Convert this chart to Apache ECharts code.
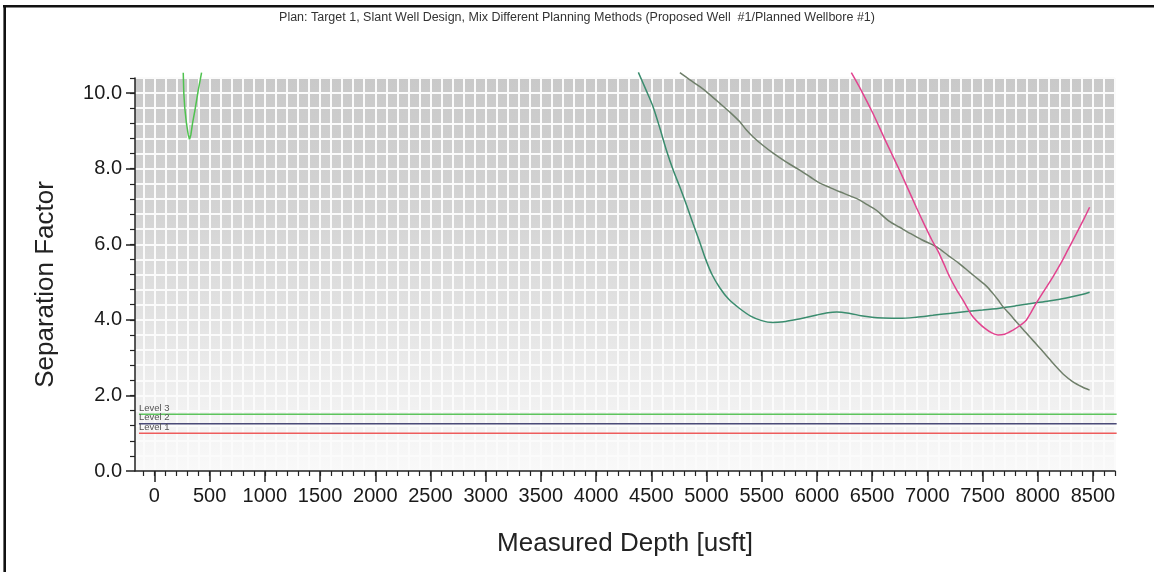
<!DOCTYPE html>
<html>
<head>
<meta charset="utf-8">
<script src="https://cdn.jsdelivr.net/npm/echarts@6/dist/echarts.min.js"></script>
<style>
  html, body { margin: 0; padding: 0; background: #ffffff; }
  #chart { width: 1154px; height: 572px; }
</style>
</head>
<body>
<div id="chart"></div>
<script>
// ---- chart text ----
const titleText = 'Plan: Target 1, Slant Well Design, Mix Different Planning Methods (Proposed Well  #1/Planned Wellbore #1)';
const xAxisName = 'Measured Depth [usft]';
const yAxisName = 'Separation Factor';

// ---- axis ranges and tick labels ----
const xMin = -176, xMax = 8700;
const yMin = 0, yMax = 10.4;
const xMajorTicks = [0, 500, 1000, 1500, 2000, 2500, 3000, 3500, 4000, 4500, 5000, 5500, 6000, 6500, 7000, 7500, 8000, 8500];
const yMajorTicks = [0, 2, 4, 6, 8, 10];
const xMinorStep = 100;
const yMinorStep = 0.4;

// ---- separation factor curves (measured depth, separation factor) ----
const shallowMD = [261, 266, 275, 290, 306, 318, 330, 345, 367, 397, 427];
const shallowSF = [10.54, 10.0, 9.6, 9.2, 8.9, 8.78, 8.9, 9.2, 9.55, 10.08, 10.54];

const tealMD = [4383, 4450, 4516, 4580, 4637, 4700, 4758, 4820, 4878, 4940, 4993, 5050, 5120, 5200, 5300, 5400, 5500, 5600, 5700, 5800, 5900, 6000, 6100, 6180, 6300, 6400, 6500, 6600, 6750, 6900, 7050, 7200, 7354, 7500, 7655, 7800, 7955, 8100, 8259, 8400, 8470];
const tealSF = [10.55, 10.1, 9.64, 9.05, 8.49, 7.95, 7.52, 7.03, 6.55, 6.05, 5.6, 5.2, 4.85, 4.55, 4.3, 4.1, 3.98, 3.93, 3.95, 4.0, 4.06, 4.13, 4.19, 4.21, 4.17, 4.11, 4.07, 4.05, 4.04, 4.07, 4.12, 4.17, 4.22, 4.26, 4.31, 4.37, 4.44, 4.5, 4.58, 4.67, 4.73];

const greyMD = [4759, 4850, 4940, 5030, 5121, 5210, 5302, 5360, 5423, 5510, 5604, 5720, 5845, 5940, 6026, 6120, 6207, 6300, 6388, 6460, 6539, 6650, 6750, 6850, 6950, 7085, 7190, 7290, 7380, 7471, 7540, 7594, 7640, 7685, 7750, 7806, 7870, 7927, 7990, 8047, 8110, 8168, 8240, 8319, 8400, 8470];
const greySF = [10.54, 10.35, 10.17, 9.96, 9.73, 9.5, 9.24, 9.03, 8.84, 8.62, 8.41, 8.18, 7.96, 7.78, 7.62, 7.5, 7.39, 7.28, 7.17, 7.04, 6.9, 6.62, 6.45, 6.28, 6.12, 5.93, 5.7, 5.49, 5.27, 5.05, 4.88, 4.7, 4.53, 4.35, 4.14, 3.95, 3.74, 3.55, 3.35, 3.16, 2.95, 2.76, 2.54, 2.36, 2.23, 2.14];

const pinkMD = [6312, 6400, 6508, 6620, 6734, 6820, 6900, 6980, 7040, 7097, 7150, 7202, 7260, 7323, 7370, 7413, 7465, 7519, 7580, 7640, 7700, 7776, 7840, 7896, 7940, 7987, 8060, 8138, 8210, 8273, 8350, 8420, 8470];
const pinkSF = [10.54, 10.08, 9.46, 8.75, 8.05, 7.5, 6.98, 6.48, 6.12, 5.82, 5.48, 5.14, 4.82, 4.52, 4.28, 4.08, 3.92, 3.78, 3.66, 3.6, 3.62, 3.73, 3.85, 3.99, 4.2, 4.44, 4.78, 5.14, 5.5, 5.85, 6.28, 6.68, 6.98];

// ---- separation factor warning levels ----
const levelNames = ['Level 1', 'Level 2', 'Level 3'];
const levelValues = [1.0, 1.25, 1.5];
const levelColors = ['#ee5c5c', '#4b4b78', '#5cc45c'];
const levelFrom = -140, levelTo = 8715;

// minor tick positions for the cell pattern
const xMinorTicks = [];
for (let v = -100; v <= xMax; v += xMinorStep) xMinorTicks.push(v);
const yMinorTicks = [];
for (let i = 1; i * yMinorStep <= yMax + 1e-9; i++) yMinorTicks.push(Math.round(i * yMinorStep * 10) / 10);

const pairs = (xs, ys) => xs.map((x, i) => [x, ys[i]]);

function curve(name, md, sf, color, smooth) {
  return {
    name: name, type: 'line', data: pairs(md, sf),
    symbol: 'none', smooth: smooth, clip: false, z: 4,
    lineStyle: { color: color, width: 1.5 }, itemStyle: { color: color }
  };
}

const levelSeries = levelValues.map((v, i) => ({
  name: levelNames[i], type: 'line', clip: false, z: 3,
  symbol: 'circle', symbolSize: 0, showSymbol: true,
  lineStyle: { color: levelColors[i], width: 1.5 },
  itemStyle: { color: levelColors[i] },
  data: [
    { value: [levelFrom, v],
      label: { show: true, formatter: levelNames[i], position: 'top', align: 'left',
               distance: 1, fontSize: 9.5, color: '#555555' } },
    [levelTo, v]
  ]
}));

const chart = echarts.init(document.getElementById('chart'), null, { renderer: 'canvas' });

chart.setOption({
  animation: false,
  backgroundColor: '#ffffff',
  textStyle: { fontFamily: '"Liberation Sans", Arial, sans-serif' },
  title: {
    text: titleText, left: 'center', top: 11, padding: 0,
    textStyle: { fontSize: 12.5, fontWeight: 'normal', color: '#333333' }
  },
  grid: {
    left: 135, right: 39, top: 78, bottom: 101,
    show: true, borderWidth: 0,
    backgroundColor: {
      type: 'linear', x: 0, y: 0, x2: 0, y2: 1,
      colorStops: [
        { offset: 0, color: '#c9c9c9' },
        { offset: 0.35, color: '#d4d4d4' },
        { offset: 0.6, color: '#e2e2e2' },
        { offset: 0.8, color: '#efefef' },
        { offset: 1, color: '#f9f9f9' }
      ]
    }
  },
  xAxis: [
    {
      type: 'value', min: xMin, max: xMax, position: 'bottom',
      name: xAxisName, nameLocation: 'middle', nameGap: 60,
      nameTextStyle: { fontSize: 26, color: '#222222' },
      axisLine: { show: true, onZero: false, lineStyle: { color: '#222222', width: 1.5 } },
      axisTick: { show: true, length: 11, customValues: xMajorTicks, lineStyle: { color: '#222222', width: 1.5 } },
      axisLabel: { show: true, customValues: xMajorTicks, fontSize: 20, color: '#1a1a1a', margin: 15,
                   formatter: v => String(v) },
      splitLine: { show: false }
    },
    {
      type: 'value', min: xMin, max: xMax, position: 'bottom',
      axisLine: { show: false, onZero: false },
      axisTick: { show: true, length: 5, customValues: xMinorTicks, lineStyle: { color: '#222222', width: 1.2 } },
      axisLabel: { show: false },
      splitLine: { show: true, lineStyle: { color: '#fbfbfb', width: 2 } }
    }
  ],
  yAxis: [
    {
      type: 'value', min: yMin, max: yMax, position: 'left',
      name: yAxisName, nameLocation: 'middle', nameGap: 76,
      nameTextStyle: { fontSize: 26, color: '#222222', padding: [0, 20, 0, 0] },
      axisLine: { show: true, onZero: false, lineStyle: { color: '#222222', width: 1.5 } },
      axisTick: { show: true, length: 9, customValues: yMajorTicks, lineStyle: { color: '#222222', width: 1.5 } },
      axisLabel: { show: true, customValues: yMajorTicks, fontSize: 20, color: '#1a1a1a', margin: 13,
                   formatter: v => v.toFixed(1) },
      splitLine: { show: false }
    },
    {
      type: 'value', min: yMin, max: yMax, position: 'left',
      axisLine: { show: false, onZero: false },
      axisTick: { show: true, length: 5, customValues: yMinorTicks, lineStyle: { color: '#222222', width: 1.2 } },
      axisLabel: { show: false },
      splitLine: { show: true, lineStyle: { color: '#fbfbfb', width: 2 } }
    }
  ],
  graphic: [
    { type: 'line', shape: { x1: 3, y1: 6.2, x2: 1154, y2: 6.2 }, style: { stroke: '#111111', lineWidth: 2.6 }, z: 10 },
    { type: 'line', shape: { x1: 4.7, y1: 5, x2: 4.7, y2: 572 }, style: { stroke: '#111111', lineWidth: 2.6 }, z: 10 }
  ],
  series: [
    ...levelSeries,
    curve('Shallow offset', shallowMD, shallowSF, '#4fc24f', false),
    curve('Offset A', tealMD, tealSF, '#3a8c6e', 0.3),
    curve('Offset B', greyMD, greySF, '#6f7f6a', 0.3),
    curve('Offset C', pinkMD, pinkSF, '#e2438f', 0.3)
  ]
});
</script>
</body>
</html>
